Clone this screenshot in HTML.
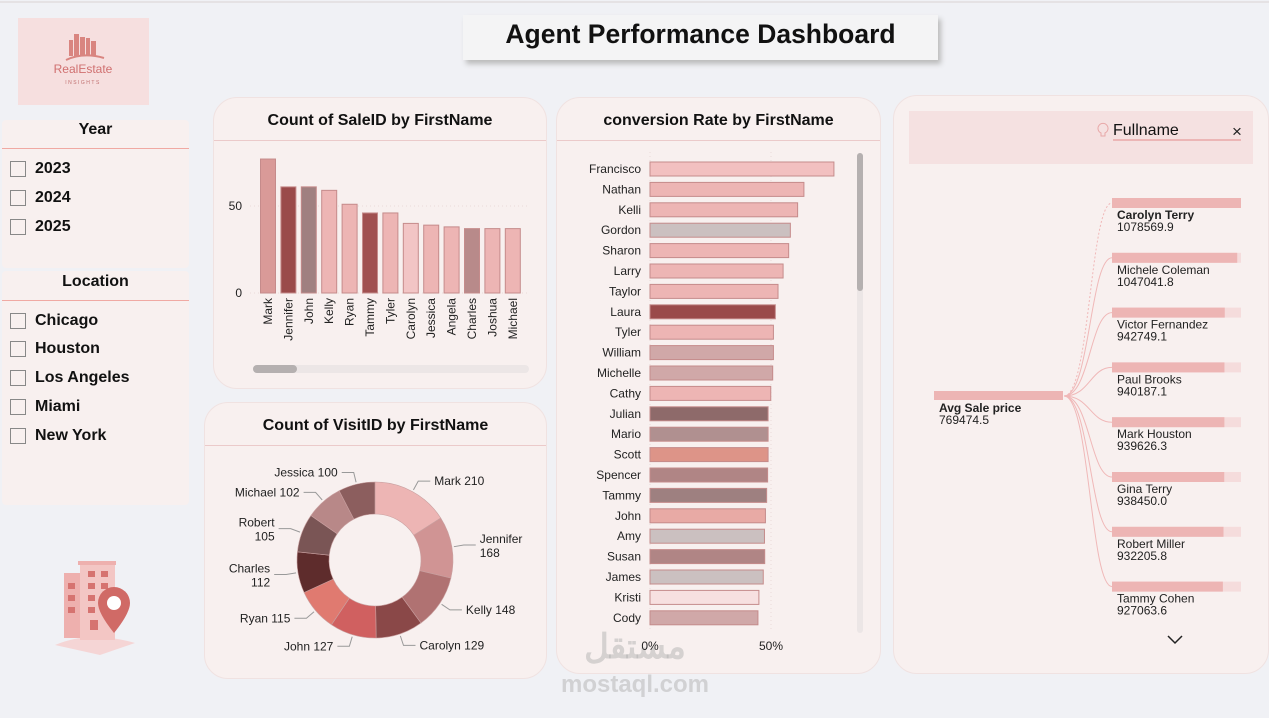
<!DOCTYPE html>
<html><head><meta charset="utf-8">
<style>
body{margin:0;width:1269px;height:718px;background:#f0f1f5;font-family:"Liberation Sans",Arial,sans-serif;overflow:hidden;position:relative}
.abs{position:absolute}
.card{position:absolute;background:#f8f0ef;border:1px solid #f0e2e1;border-radius:24px}
.ttl{position:absolute;left:0;right:0;text-align:center;font-weight:bold;font-size:16px;color:#111}
.hl{position:absolute;left:0;right:0;height:1px;background:#ebcaca}
.slicer{position:absolute;background:#f8f0ef;border-radius:4px;left:2px;width:187px}
.item{position:absolute;left:8px;font-weight:bold;font-size:16px;color:#111;display:flex;align-items:center}
.cb{width:14px;height:14px;border:1px solid #888;margin-right:9px;background:#f8f0ef}
</style></head><body>
<div class="abs" style="left:0;top:1px;width:1269px;height:2px;background:#e5e2e4"></div>
<div class="abs" style="left:18px;top:18px;width:131px;height:87px;background:#f6dfdf">
<svg width="131" height="87"><g fill="#d98580"><rect x="51" y="22" width="4" height="16"/><rect x="56" y="16" width="5" height="22"/><rect x="62" y="19" width="5" height="19"/><rect x="68" y="20" width="4" height="18"/><rect x="73" y="23" width="5" height="15"/></g><path d="M48 42 Q65 34 86 40" stroke="#d98580" stroke-width="2" fill="none"/><text x="65" y="55" text-anchor="middle" font-size="12" fill="#d07070">RealEstate</text><text x="65" y="66" text-anchor="middle" font-size="5" letter-spacing="1.5" fill="#c07070">INSIGHTS</text></svg></div>
<div class="abs" style="left:463px;top:15px;width:475px;height:45px;background:#f4f4f5;box-shadow:3px 4px 5px #bbb;text-align:center;line-height:38px;font-weight:bold;font-size:26.5px;color:#111">Agent Performance Dashboard</div>

<div class="slicer" style="top:120px;height:148px">
<div class="ttl" style="top:1px;font-size:16px">Year</div><div class="hl" style="top:28px;background:#f0a9a3"></div>
<div class="item" style="top:40px"><div class="cb"></div>2023</div>
<div class="item" style="top:69px"><div class="cb"></div>2024</div>
<div class="item" style="top:98px"><div class="cb"></div>2025</div>
</div>
<div class="slicer" style="top:271px;height:234px">
<div class="ttl" style="top:2px;font-size:16px">Location</div><div class="hl" style="top:29px;background:#f0a9a3"></div>
<div class="item" style="top:41px"><div class="cb"></div>Chicago</div>
<div class="item" style="top:69px"><div class="cb"></div>Houston</div>
<div class="item" style="top:98px"><div class="cb"></div>Los Angeles</div>
<div class="item" style="top:127px"><div class="cb"></div>Miami</div>
<div class="item" style="top:156px"><div class="cb"></div>New York</div>
</div>
<svg class="abs" style="left:50px;top:555px" width="90" height="110">
<path d="M5 90 Q40 75 85 88 L50 100 Z" fill="#f5d5d5"/>
<rect x="14" y="18" width="20" height="65" fill="#eeb0ae"/><rect x="30" y="10" width="35" height="75" fill="#f3c6c4"/><rect x="28" y="6" width="38" height="4" fill="#eeb0ae"/>
<g fill="#d67370"><rect x="38" y="16" width="7" height="6"/><rect x="51" y="16" width="7" height="6"/><rect x="38" y="28" width="7" height="6"/><rect x="51" y="28" width="7" height="6"/><rect x="38" y="40" width="7" height="6"/><rect x="38" y="52" width="7" height="6"/><rect x="18" y="28" width="7" height="6"/><rect x="18" y="40" width="7" height="6"/><rect x="18" y="52" width="7" height="6"/><rect x="40" y="65" width="8" height="10"/></g>
<path d="M64 32 a16 16 0 0 1 16 16 q0 10 -16 30 q-16 -20 -16 -30 a16 16 0 0 1 16 -16z" fill="#d06a66"/><circle cx="64" cy="48" r="7" fill="#fff"/></svg>

<div class="card" style="left:213px;top:97px;width:332px;height:290px"><div class="ttl" style="top:14px">Count of SaleID by FirstName</div><div class="hl" style="top:42px"></div></div>
<div class="card" style="left:204px;top:402px;width:341px;height:275px"><div class="ttl" style="top:14px">Count of VisitID by FirstName</div><div class="hl" style="top:42px"></div></div>
<div class="card" style="left:556px;top:97px;width:323px;height:575px"><div class="ttl" style="top:14px">conversion Rate by FirstName</div><div class="hl" style="top:42px"></div></div>
<div class="card" style="left:893px;top:95px;width:374px;height:577px"></div>

<div class="abs" style="left:550px;top:630px;width:170px;text-align:center;color:rgba(170,170,170,0.45);font-weight:bold;font-size:24px;line-height:34px;font-family:'Liberation Sans','Noto Sans CJK SC',sans-serif"><span style="font-size:34px">مستقل</span><br>mostaql.com</div>

<svg id="chart" class="abs" style="left:0;top:0" width="1269" height="718" font-family="Liberation Sans, Arial, sans-serif"></svg>

<script>
const saleNames=["Mark","Jennifer","John","Kelly","Ryan","Tammy","Tyler","Carolyn","Jessica","Angela","Charles","Joshua","Michael"];
const saleValues=[77,61,61,59,51,46,46,40,39,38,37,37,37];
const saleTicks=[0,50];
const saleColors=["#d99a98","#9a4a4a","#a08080","#edb5b4","#edb5b4","#a05050","#edb5b4","#f2c5c5","#edb5b4","#edb5b4","#b88a8a","#edb5b4","#edb5b4"];

const visitNames=["Mark","Jennifer","Kelly","Carolyn","John","Ryan","Charles","Robert","Michael","Jessica"];
const visitValues=[210,168,148,129,127,115,112,105,102,100];
const visitColors=["#edb5b4","#d09494","#b07272","#8a4848","#d06060","#e07a70","#5e2c2c","#7a5555","#b88888","#8c5e5e"];

const convNames=["Francisco","Nathan","Kelli","Gordon","Sharon","Larry","Taylor","Laura","Tyler","William","Michelle","Cathy","Julian","Mario","Scott","Spencer","Tammy","John","Amy","Susan","James","Kristi","Cody"];
const convValues=[76,63.6,61,58,57.3,55,52.9,51.8,51,51,50.7,49.9,48.8,48.8,48.8,48.6,48.2,47.7,47.3,47.4,46.8,45,44.6];
const convTicks=[0,50];
const convColors=["#f2c0c0","#edb5b4","#edb5b4","#cbc0c0","#edb5b4","#edb5b4","#edb5b4","#9a4a4a","#edb5b4","#d0a8a8","#d0a8a8","#edb5b4","#8e6a6a","#b09090","#dd9488","#b08585","#9e8080","#e8aaa5","#cbc0c0","#b08585","#cbc0c0","#f7e0e0","#d0a8a8"];

const treeNames=["Carolyn Terry","Michele Coleman","Victor Fernandez","Paul Brooks","Mark Houston","Gina Terry","Robert Miller","Tammy Cohen"];
const treeValues=[1078569.9,1047041.8,942749.1,940187.1,939626.3,938450.0,932205.8,927063.6];
const treeRoot=769474.5;

const svg=document.getElementById('chart');
const NS='http://www.w3.org/2000/svg';
function mk(tag,attrs,parent){const e=document.createElementNS(NS,tag);for(const k in attrs)e.setAttribute(k,attrs[k]);(parent||svg).appendChild(e);return e;}
function txt(x,y,s,attrs,parent){const t=mk('text',Object.assign({x:x,y:y,'font-size':12,fill:'#222'},attrs||{}),parent);t.textContent=s;return t;}

// ---- Sales bar chart
const sY=v=>293-v*(87/50);
const sX=i=>268+i*20.4;
saleTicks.forEach(t=>{
  const l=mk('line',{x1:250,x2:529,y1:sY(t),y2:sY(t),stroke:'#eadada','stroke-dasharray':'1 3'});
  
  
  const tl=txt(242,sY(t)+4,String(t),{'text-anchor':'end'});
  
  
});
saleNames.forEach((n,i)=>{
  const r=mk('rect',{x:sX(i)-7.5,y:sY(saleValues[i]),width:15,height:sY(0)-sY(saleValues[i]),fill:saleColors[i],stroke:'#c58b8b','stroke-width':1});
  
  
  const t=txt(sX(i)+4,298,n,{'text-anchor':'end',transform:'rotate(-90 '+(sX(i)+4)+' 298)'});
  
  
});
const sb=mk('rect',{x:253,y:365,width:276,height:8,rx:4,fill:'#ece6e6'});


const sbt=mk('rect',{x:253,y:365,width:44,height:8,rx:4,fill:'#b5b0b0'});



// ---- Donut
const cx=375,cy=560,R=78,r0=46;
const tot=visitValues.reduce((a,b)=>a+b,0);
let a0=-Math.PI/2;
visitValues.forEach((v,i)=>{
  const a1=a0+v/tot*2*Math.PI;
  const p=(a,rr)=>[cx+rr*Math.cos(a),cy+rr*Math.sin(a)];
  const [x1,y1]=p(a0,R),[x2,y2]=p(a1,R),[x3,y3]=p(a1,r0),[x4,y4]=p(a0,r0);
  const lg=(a1-a0)>Math.PI?1:0;
  const s=mk('path',{d:`M${x1} ${y1} A${R} ${R} 0 ${lg} 1 ${x2} ${y2} L${x3} ${y3} A${r0} ${r0} 0 ${lg} 0 ${x4} ${y4} Z`,fill:visitColors[i],stroke:'#c9a0a0','stroke-width':0.6});
  
  
  const am=(a0+a1)/2;const [lx,ly]=p(am,R+2);const [ex,ey]=p(am,R+12);
  const right=Math.cos(am)>=0;
  const hx=ex+(right?12:-12);
  const ll=mk('polyline',{points:`${lx},${ly} ${ex},${ey} ${hx},${ey}`,fill:'none',stroke:'#999','stroke-width':1});
  
  
  const anchor=right?'start':'end';
  const tx=hx+(right?4:-4);
  const two=(Math.abs(Math.sin(am))<0.4);
  let t;
  if(two){t=txt(tx,ey-2,visitNames[i],{'text-anchor':anchor});txt(tx,ey+12,String(v),{'text-anchor':anchor});}
  else t=txt(tx,ey+4,visitNames[i]+' '+v,{'text-anchor':anchor});
  
  
  a0=a1;
});

// ---- Conversion bars
const cX=v=>650+v*(121/50);
const cY=i=>169+i*20.4;
convTicks.forEach(t=>{
  const l=mk('line',{x1:cX(t),x2:cX(t),y1:152,y2:630,stroke:'#eadada','stroke-dasharray':'1 3'});
  
  
  const tl=txt(cX(t),650,t+'%',{'text-anchor':'middle'});
  
  
});
convNames.forEach((n,i)=>{
  const r=mk('rect',{x:cX(0),y:cY(i)-7,width:cX(convValues[i])-cX(0),height:14,fill:convColors[i],stroke:'#c58b8b','stroke-width':1});
  
  
  const t=txt(641,cY(i)+4,n,{'text-anchor':'end'});
  
  
});
const cs=mk('rect',{x:857,y:153,width:6,height:480,rx:3,fill:'#ece6e6'});


const cst=mk('rect',{x:857,y:153,width:6,height:138,rx:3,fill:'#b5b0b0'});



// ---- Decomposition tree
const sbx=mk('rect',{x:909,y:111,width:344,height:53,fill:'#f5e1e1'});


const bulb=mk('path',{d:'M1101 133 a5 5 0 1 1 4 0 v3 h-4 z',fill:'none',stroke:'#e8a8a8','stroke-width':1});


const fn=txt(1113,135,'Fullname',{'font-size':16,fill:'#111'});


const ul=mk('line',{x1:1113,x2:1241,y1:140,y2:140,stroke:'#eaa8a8','stroke-width':1.5});


const cl=txt(1237,137,'×',{'font-size':17,'text-anchor':'middle',fill:'#222'});


const maxV=treeValues[0], W=129;
const rb=mk('rect',{x:934,y:391,width:W*treeRoot/treeRoot,height:9,fill:'#edb5b4'});


const rt=txt(939,412,'Avg Sale price',{'font-weight':'bold'});


txt(939,424,treeRoot.toFixed(1));
treeNames.forEach((n,i)=>{
  const y=198+i*54.8;
  const c=mk('path',{d:`M1064 396 C1090 396 1090 ${y+5} 1112 ${y+5}`,fill:'none',stroke:'#f0b8b8','stroke-width':1,'stroke-dasharray':i==0?'2 2':'none'});
  
  
  const bg=mk('rect',{x:1112,y:y,width:W,height:10,fill:'#f5dcdc'});
  
  
  const b=mk('rect',{x:1112,y:y,width:W*treeValues[i]/maxV,height:10,fill:'#edb5b4'});
  
  
  const t=txt(1117,y+21,n,{'font-weight':i==0?'bold':'normal'});
  
  
  txt(1117,y+33,treeValues[i].toFixed(1));
});
const ch=mk('polyline',{points:'1168,636 1175,643 1182,636',fill:'none',stroke:'#222','stroke-width':1.5});


</script>
</body></html>
